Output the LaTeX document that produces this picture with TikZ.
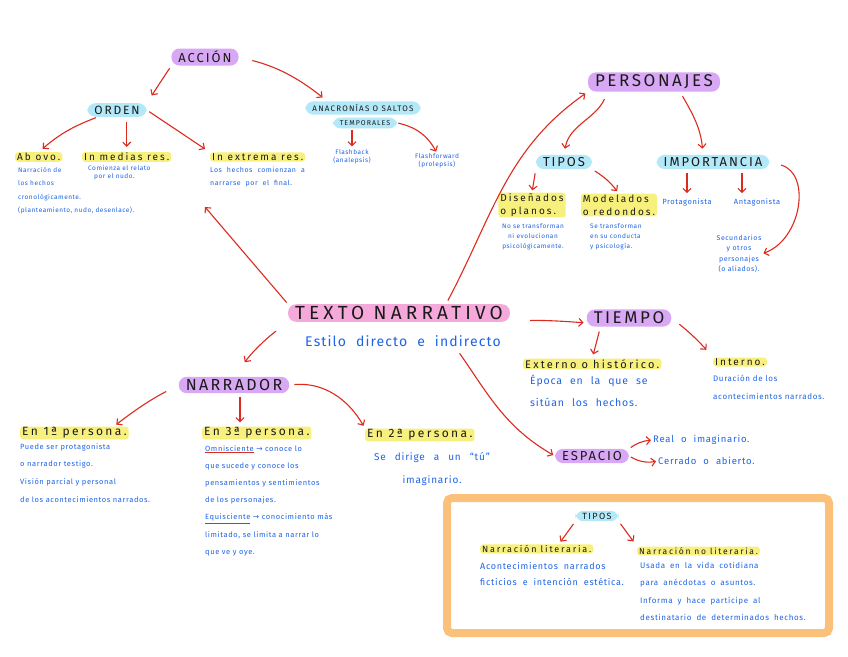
\documentclass[tikz,border=0pt]{standalone}
\usepackage{fontspec}
\setmainfont{Fira Sans}
\newfontfamily\hd[LetterSpace=15]{Fira Sans}
\newfontfamily\hdw[LetterSpace=22]{Fira Sans}
\newfontfamily\lb[LetterSpace=20]{Fira Sans}
\newfontfamily\ds[LetterSpace=8]{Fira Sans}
\newfontfamily\dv{DejaVu Sans}
\usetikzlibrary{arrows.meta}
\newcommand\fs[2]{\fontsize{#1}{#2}\selectfont}
\newcommand\sps[1]{\spaceskip=#1\relax}
\newcommand\rul[1]{\textcolor{redd}{\underline{\textcolor{blu}{#1}}}}
\definecolor{purp}{HTML}{D8A8F4}
\definecolor{pinkk}{HTML}{F5A9DA}
\definecolor{cyanb}{HTML}{B3E8F9}
\definecolor{yel}{HTML}{F8F07C}
\definecolor{redd}{HTML}{DD2A1E}
\definecolor{blu}{HTML}{1E64E6}
\definecolor{orng}{HTML}{FBC07A}
\definecolor{ink}{HTML}{1A1A1A}
\tikzset{
  pill/.style={rounded corners=8pt, inner xsep=7pt, inner ysep=2.5pt, text=ink},
  hl/.style={fill=yel, rounded corners=3pt, inner xsep=2pt, inner ysep=1pt, text=ink, font=\lb\fs{10}{12}},
  desc/.style={text=blu, inner sep=0pt, font=\ds},
  arr/.style={draw=redd, line width=1.1pt, -{Straight Barb[length=4pt,width=8pt]}},
}
\begin{document}
\begin{tikzpicture}[x=1pt,y=-1pt]
\fill[white] (0,0) rectangle (848,656);
\useasboundingbox (0,0) rectangle (848,656);

% orange box
\node[draw=orng, line width=8pt, rounded corners=5pt, minimum width=382pt, minimum height=135pt] (box) at (638,565.5) {};

% ACCION branch
\node[pill,fill=purp,font=\hd\fs{13}{15}] (accion) at (205,57) {ACCIÓN};
\node[pill,fill=cyanb,font=\hd\fs{12}{14}] (orden) at (117,110) {ORDEN};
\node[pill,fill=cyanb,font=\hd\fs{8}{10},inner ysep=3pt] (anac) at (363,108) {ANACRONÍAS O SALTOS};
\node[pill,fill=cyanb,font=\hd\fs{7}{9},inner ysep=3pt] (temp) at (365,123) {TEMPORALES};
\node[hl,anchor=west] (abovo) at (15,157) {Ab ovo.};
\node[hl,anchor=west] (medias) at (82,157) {In medias res.};
\node[hl,anchor=west] (extrema) at (210,157) {In extrema res.};
\node[desc,anchor=north west,align=left,font=\ds\fs{6.5}{13.5}] (dabovo) at (18,167) {Narración de\\los hechos\\cronológicamente.\\(planteamiento, nudo, desenlace).};
\node[desc,anchor=north west,align=left,font=\ds\fs{6.5}{8}] (dmedias) at (88,165) {Comienza el relato\\\hspace{6pt}por el nudo.};
\node[desc,anchor=north west,align=left,font=\ds\fs{7}{13}\sps{5pt}] (dextrema) at (210,167) {Los hechos comienzan a\\narrarse por el final.};
\node[desc,align=center,font=\ds\fs{6.5}{8.5}] (fback) at (352,157) {Flashback\\(analepsis)};
\node[desc,align=center,font=\ds\fs{6.5}{8.5}] (ffwd) at (437,161) {Flashforward\\(prolepsis)};

% PERSONAJES branch
\node[pill,fill=purp,font=\hd\fs{17}{19}] (personajes) at (654,82) {PERSONAJES};
\node[pill,fill=cyanb,font=\hd\fs{13}{15}] (tipos) at (564,162) {TIPOS};
\node[pill,fill=cyanb,font=\hd\fs{13}{15}] (importancia) at (713,162) {IMPORTANCIA};
\node[hl,align=left,font=\lb\fs{10}{13}] (dis) at (532,205) {Diseñados\\o planos.};
\node[hl,align=left,font=\lb\fs{10}{13}] (mod) at (619,205) {Modelados\\o redondos.};
\node[desc,anchor=north,align=center,font=\ds\fs{6.5}{10}] (ddis) at (533,223) {No se transforman\\ni evolucionan\\psicológicamente.};
\node[desc,anchor=north west,align=left,font=\ds\fs{6.5}{10}] (dmod) at (590,223) {Se transforman\\en su conducta\\y psicología.};
\node[desc,font=\ds\fs{7.5}{9}] (prota) at (687,202) {Protagonista};
\node[desc,font=\ds\fs{7.5}{9}] (anta) at (757,202) {Antagonista};
\node[desc,align=center,font=\ds\fs{7}{10.5}] (secund) at (739,254) {Secundarios\\y otros\\personajes\\(o aliados).};

% centre
\node[pill,fill=pinkk,font=\hdw\fs{19}{21},inner ysep=2pt] (texto) at (399,313) {TEXTO NARRATIVO};
\node[desc,font=\ds\fs{14}{16}\sps{10pt}] (estilo) at (403,341) {Estilo directo e indirecto};

% TIEMPO
\node[pill,fill=purp,font=\hd\fs{17}{19}] (tiempo) at (629,318) {TIEMPO};
\node[hl,anchor=west,font=\lb\fs{11}{13}] (ext) at (523,364) {Externo o histórico.};
\node[hl,anchor=west,font=\lb\fs{10}{12}] (int) at (713,362) {Interno.};
\node[desc,anchor=north west,align=left,font=\ds\fs{10.5}{22}\sps{8pt}] (dext) at (530,375) {Época en la que se\\sitúan los hechos.};
\node[desc,anchor=north west,align=left,font=\ds\fs{8}{18}] (dint) at (713,375) {Duración de los\\acontecimientos narrados.};

% NARRADOR
\node[pill,fill=purp,font=\hd\fs{16}{18}] (narrador) at (234,385) {NARRADOR};
\node[hl,anchor=west,font=\lb\fs{12}{14}] (p1) at (20,433) {En 1ª persona.};
\node[hl,anchor=west,font=\lb\fs{12}{14}] (p3) at (202,433) {En 3ª persona.};
\node[hl,anchor=west,font=\lb\fs{12}{14}] (p2) at (365,435) {En 2ª persona.};
\node[desc,anchor=north west,align=left,font=\ds\fs{7.5}{17.7}] (dp1) at (20,443) {Puede ser protagonista\\o narrador testigo.\\Visión parcial y personal\\de los acontecimientos narrados.};
\node[desc,anchor=north west,align=left,font=\ds\fs{7.5}{17.2}] (dp3) at (205,445) {\rul{Omnisciente} {\dv →} conoce lo\\que sucede y conoce los\\pensamientos y sentimientos\\de los personajes.\\\rul{Equisciente} {\dv →} conocimiento más\\limitado, se limita a narrar lo\\que ve y oye.};
\node[desc,align=center,font=\ds\fs{10}{23}\sps{9pt}] (dp2) at (432,469) {Se dirige a un “tú”\\imaginario.};

% ESPACIO
\node[pill,fill=purp,font=\hd\fs{13}{15}] (espacio) at (592,456) {ESPACIO};
\node[desc,anchor=west,font=\ds\fs{9.5}{11}\sps{7pt}] (real) at (653,440) {Real o imaginario.};
\node[desc,anchor=west,font=\ds\fs{9.5}{11}\sps{7pt}] (cerr) at (658,461) {Cerrado o abierto.};

% box content
\node[pill,fill=cyanb,font=\hd\fs{9}{11},inner ysep=2pt] (btipos) at (597,516) {TIPOS};
\node[hl,anchor=west,font=\lb\fs{9}{11}] (lit) at (480,549) {Narración literaria.};
\node[hl,anchor=west,font=\lb\fs{8.5}{11}] (nolit) at (637,551) {Narración no literaria.};
\node[desc,anchor=north west,align=left,font=\ds\fs{9}{16.5}\sps{6pt}] (dlit) at (480,562) {Acontecimientos narrados\\ficticios e intención estética.};
\node[desc,anchor=north west,align=left,font=\ds\fs{8}{17.3}\sps{5pt}] (dnolit) at (640,562) {Usada en la vida cotidiana\\para anécdotas o asuntos.\\Informa y hace partícipe al\\destinatario de determinados hechos.};

% arrows
\draw[arr,shorten <=3pt,shorten >=9pt] (accion.south west) -- (orden.north east);
\draw[arr,shorten <=14pt,shorten >=6pt] (accion.east) to[bend left=12] ([xshift=22pt]anac.north west);
\draw[arr,shorten <=2pt,shorten >=5pt] (orden.200) to[bend right=10] (abovo.north);
\draw[arr,shorten <=5pt,shorten >=5pt] (orden.south -| medias.north) -- (medias.north);
\draw[arr,shorten <=3pt,shorten >=6pt] (orden.east) -- (extrema.north west);
\draw[arr,shorten <=1pt,shorten >=3pt] (temp.south -| fback.north) -- (fback.north);
\draw[arr,shorten <=1pt,shorten >=2pt] (temp.east) to[bend left=25] (ffwd.north);

\coordinate (acctip) at (205,207);
\draw[arr,shorten <=2pt] (texto.north west) -- (acctip);
\draw[arr,shorten <=4pt,shorten >=3pt] ([xshift=47pt]texto.north) to[out=62,in=215] (personajes.south west);
\draw[arr,shorten <=20pt,shorten >=3pt] ([yshift=-8pt]texto.east) to[bend left=3] ([yshift=-5pt]tiempo.west);
\draw[arr,shorten <=15pt,shorten >=18pt] (texto.south west) to[bend right=8] (narrador.north);
\draw[arr,shorten <=8pt,shorten >=2pt] ([xshift=52pt]estilo.south) to[out=-55,in=150] (espacio.west);

\draw[arr,shorten <=8pt,shorten >=6pt] ([xshift=20pt]personajes.south west) to[out=-115,in=80] (tipos.north);
\draw[arr,shorten <=5pt,shorten >=6pt] ([xshift=26pt]personajes.south) to[out=-60,in=95] ([xshift=-10pt]importancia.north);
\draw[arr,shorten <=4pt,shorten >=2pt] (tipos.south west) -- (dis.north);
\draw[arr,shorten <=3pt,shorten >=3pt] (tipos.south east) to[bend left=10] (mod.north);
\draw[arr,shorten <=4pt,shorten >=5pt] (importancia.south -| prota.north) -- (prota.north);
\draw[arr,shorten <=4pt,shorten >=5pt] ([xshift=-15pt]importancia.south -| anta.north) -- ([xshift=-15pt]anta.north);
\draw[arr,shorten <=12pt,shorten >=2pt] (importancia.east) to[out=-15,in=20,looseness=1.2] (secund.east);

\draw[arr,shorten <=5pt,shorten >=4pt] ([xshift=14pt]tiempo.south west) -- (ext.north);
\draw[arr,shorten <=10pt,shorten >=10pt] (tiempo.east) to[bend left=5] (int.north west);

\draw[arr,shorten <=14pt,shorten >=3pt] (narrador.west) to[bend right=5] ([xshift=-15pt]p1.north east);
\coordinate (n3) at ([xshift=6pt]narrador.south);
\draw[arr,shorten <=4pt,shorten >=4pt] (n3) -- (n3 |- p3.north);
\draw[arr,shorten <=5pt,shorten >=3pt] (narrador.east) to[out=5,in=120] (p2.north west);

\draw[arr,shorten <=2pt,shorten >=2pt] (espacio.north east) to[bend left=15] (real.west);
\draw[arr,shorten <=2pt,shorten >=2pt] (espacio.east) to[bend right=20] (cerr.west);

\draw[arr,shorten <=3pt,shorten >=3pt] (btipos.south west) -- ([xshift=22pt]lit.north);
\draw[arr,shorten <=3pt,shorten >=6pt] (btipos.south east) -- (nolit.north west);
\end{tikzpicture}
\end{document}
